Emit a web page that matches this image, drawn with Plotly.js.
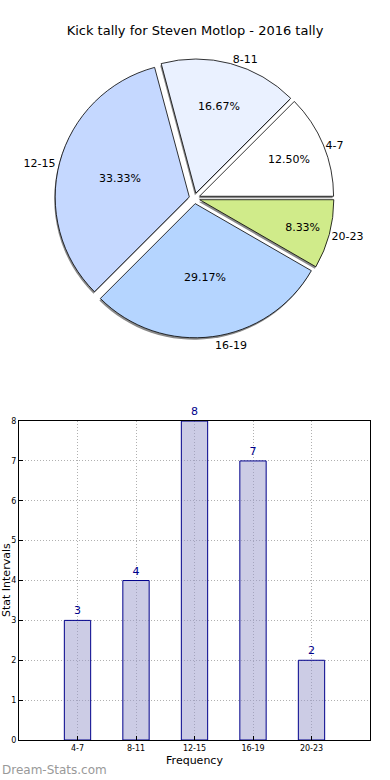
<!DOCTYPE html>
<html><head><meta charset="utf-8">
<script src="https://cdn.plot.ly/plotly-3.0.1.min.js"></script>
<style>html,body{margin:0;padding:0;background:#fff}#chart{width:390px;height:780px}</style>
</head><body><div id="chart"></div>
<script>
const categories = ['4-7','8-11','12-15','16-19','20-23'];
const counts = [3,4,8,7,2];
const pieColors = ['#ffffff','#eaf1ff','#c5d8ff','#b5d5ff','#d0eb8a'];
const pulls = [0.04,0.04,0.04,0.04,0.04];
const positions = [1,2,3,4,5];

const W = 351, H = 740; // plot area in px (margins l19 r20 t0 b40)
const dx = 2/W, dy = 2/H;
const pieX = [0.0, 1.0];
const pieY = [0.5435, 0.9205];

const shadow = {
  type:'pie', values:counts, labels:categories, sort:false, direction:'counterclockwise', rotation:45,
  pull:pulls, marker:{colors:categories.map(()=> '#8a8a8a'), line:{width:0}},
  textinfo:'label', textposition:'outside', textfont:{family:'DejaVu Sans', size:11, color:'#000'},
  domain:{x:[pieX[0]-dx, pieX[1]-dx], y:[pieY[0]-dy, pieY[1]-dy]}, showlegend:false, hoverinfo:'skip'
};
const pie = {
  type:'pie', values:counts, labels:categories, sort:false, direction:'counterclockwise', rotation:45,
  pull:pulls, marker:{colors:pieColors, line:{color:'#000', width:0.8}},
  texttemplate:'%{percent:.2%}', textposition:'inside', insidetextorientation:'horizontal',
  textfont:{family:'DejaVu Sans', size:11, color:'#000'},
  domain:{x:pieX, y:pieY}, showlegend:false
};
const bars = {
  type:'bar', x:positions, y:counts, width:0.45,
  marker:{color:'rgba(153,153,204,0.5)', line:{color:'#00008b', width:1}},
  text:counts.map(String), textposition:'outside', cliponaxis:false,
  textfont:{family:'DejaVu Sans', size:11, color:'#00008b'},
  xaxis:'x', yaxis:'y', showlegend:false
};

const layout = {
  width:390, height:780, margin:{l:19, r:20, t:0, b:40},
  paper_bgcolor:'#fff', plot_bgcolor:'#fff',
  font:{family:'DejaVu Sans', color:'#000'},
  title:{text:'Kick tally for Steven Motlop - 2016 tally', font:{family:'DejaVu Sans', size:13, color:'#000'},
    x:0.5, xref:'container', y:1-30/780, yref:'container', yanchor:'middle'},
  xaxis:{domain:[0,1], range:[0,6], tickvals:positions, ticktext:categories,
    showgrid:true, gridcolor:'#b0b0b0', griddash:'1px,2px', gridwidth:1,
    showline:true, linecolor:'#000', linewidth:1, mirror:true, zeroline:false,
    ticks:'inside', ticklen:4, tickcolor:'#000', tickfont:{size:8, family:'DejaVu Sans'},
    title:{text:'Frequency', font:{size:11, family:'DejaVu Sans'}, standoff:4}},
  yaxis:{domain:[0, 0.431], range:[0,8], dtick:1,
    showgrid:true, gridcolor:'#b0b0b0', griddash:'1px,2px', gridwidth:1,
    showline:true, linecolor:'#000', linewidth:1, mirror:true, zeroline:false,
    ticks:'inside', ticklen:4, tickcolor:'#000', tickfont:{size:8, family:'DejaVu Sans'}},
  annotations:[
    {text:'Stat Intervals', textangle:-90, xref:'paper', yref:'paper', x:-13/W, y:(740-580)/H,
     xanchor:'center', yanchor:'middle', showarrow:false, font:{size:11, family:'DejaVu Sans', color:'#000'}},
    {text:'Dream-Stats.com', xref:'paper', yref:'paper', x:-19/W, y:(740-770)/H,
     xanchor:'left', yanchor:'middle', showarrow:false, font:{size:12, family:'DejaVu Sans', color:'#999999'}}
  ]
};
Plotly.newPlot('chart', [shadow, pie, bars], layout, {displayModeBar:false, staticPlot:true});
</script></body></html>
